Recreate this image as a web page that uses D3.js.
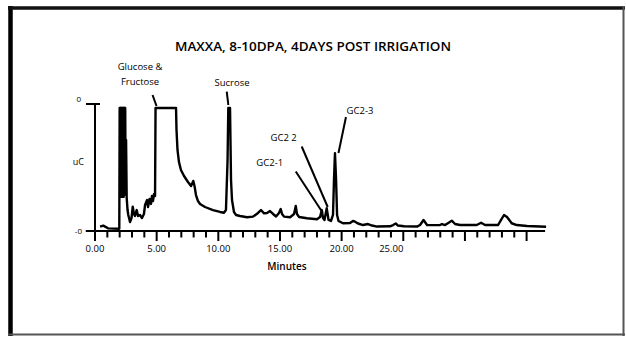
<!DOCTYPE html>
<html>
<head>
<meta charset="utf-8">
<script src="https://cdn.jsdelivr.net/npm/d3@7"></script>
<style>
  body { margin: 0; background: #fff; }
  text { font-family: "Open Sans", "DejaVu Sans", sans-serif; fill: #000; }
</style>
</head>
<body>
<script>
// chromatogram: [minutes, uC]
// tops at 96.9 are where the detector trace is clipped
var chromatogram = [
  [0.41, 3.4], [0.67, 4.2], [0.89, 3.1], [1.05, 2.1], [1.97, 1.8],
  [2.00, 96.9], [2.03, 27.0], [2.05, 96.9], [2.08, 27.0], [2.10, 96.9],
  [2.13, 27.0], [2.15, 96.9], [2.18, 27.0], [2.20, 96.9], [2.23, 27.0],
  [2.25, 96.9], [2.28, 27.0], [2.30, 96.9], [2.33, 27.0], [2.35, 96.9],
  [2.38, 28.3], [2.40, 96.9], [2.43, 30.0], [2.45, 96.9], [2.48, 32.0],
  [2.52, 71.7], [2.57, 26.0],
  [2.64, 16.5], [2.70, 12.6], [2.84, 7.1], [2.96, 10.2], [3.06, 19.1],
  [3.16, 13.4], [3.24, 11.8], [3.38, 16.5], [3.49, 11.8], [3.65, 12.6],
  [3.81, 10.2], [3.97, 13.4], [4.06, 20.5], [4.22, 24.4], [4.30, 18.9],
  [4.42, 25.2], [4.54, 21.3], [4.62, 27.6], [4.70, 23.6], [4.79, 29.1],
  [4.87, 27.6], [4.91, 96.9], [6.57, 96.9], [6.61, 79.5], [6.69, 63.8],
  [6.81, 54.3], [6.97, 48.0], [7.22, 43.3], [7.54, 38.6], [7.79, 35.4],
  [7.97, 39.4], [8.07, 35.4], [8.19, 28.3], [8.35, 23.6], [8.52, 21.3],
  [8.92, 18.9], [9.57, 16.5], [10.14, 15.0], [10.46, 14.4], [10.62, 16.5],
  [10.75, 55.9], [10.81, 96.9], [10.95, 96.9], [11.03, 40.2], [11.11, 24.4],
  [11.27, 15.0], [11.44, 12.6], [11.76, 11.8], [12.33, 10.8], [12.81, 11.3],
  [13.22, 14.2], [13.46, 16.5], [13.71, 13.9], [13.95, 14.2], [14.19, 15.7],
  [14.44, 13.4], [14.68, 11.4], [14.92, 14.2], [15.06, 17.3], [15.17, 13.4],
  [15.33, 11.3], [15.82, 10.8], [16.14, 13.4], [16.28, 19.7], [16.38, 13.4],
  [16.55, 11.0], [17.19, 10.0], [18.00, 9.2], [18.25, 11.0], [18.39, 16.5],
  [18.49, 10.2], [18.61, 8.7], [18.79, 17.9], [18.94, 8.7], [19.14, 7.9],
  [19.30, 12.6], [19.38, 40.2], [19.46, 61.2], [19.55, 40.2], [19.63, 12.6],
  [19.75, 7.9], [20.11, 6.1], [20.68, 6.3], [20.92, 7.9], [21.09, 7.3],
  [21.33, 5.9], [21.74, 4.7], [22.14, 5.5], [22.47, 4.3], [22.87, 3.5],
  [23.93, 3.7], [24.17, 4.7], [24.39, 5.9], [24.57, 4.3], [25.06, 3.7],
  [26.11, 3.5], [26.36, 4.7], [26.64, 8.7], [26.93, 4.7], [27.33, 4.6],
  [27.98, 4.7], [28.14, 5.5], [28.39, 4.7], [28.71, 6.7], [28.93, 8.1],
  [29.20, 5.5], [29.60, 4.7], [30.96, 4.7], [31.31, 6.5], [31.63, 4.7],
  [32.68, 4.7], [32.93, 8.7], [33.17, 12.6], [33.41, 11.0], [33.79, 6.1],
  [34.20, 4.7], [35.04, 3.9], [36.58, 3.4]
];

var tickMinutes = d3.range(0, 36);
var tickLabels = ["0.00", "5.00", "10.00", "15.00", "20.00", "25.00"];
var labelMinutes = [0, 5, 10, 15, 20, 25];

var peakNames = ["Glucose &\nFructose", "Sucrose", "GC2-1", "GC2 2", "GC2-3"];
var peakMinutes = [4.95, 10.87, 18.39, 18.79, 19.46];

var svg = d3.select("body").append("svg")
  .attr("width", 626)
  .attr("height", 337);

// frame: heavy on the left/top, thin grey on the right/bottom
svg.append("line").attr("x1", 10.5).attr("x2", 10.5).attr("y1", 6).attr("y2", 336)
  .attr("stroke", "#000").attr("stroke-width", 4.5);
svg.append("line").attr("x1", 8).attr("x2", 625).attr("y1", 8).attr("y2", 8)
  .attr("stroke", "#111").attr("stroke-width", 3.5);
svg.append("line").attr("x1", 623.5).attr("x2", 623.5).attr("y1", 6).attr("y2", 336)
  .attr("stroke", "#555").attr("stroke-width", 2);
svg.append("line").attr("x1", 8).attr("x2", 625).attr("y1", 334.5).attr("y2", 334.5)
  .attr("stroke", "#555").attr("stroke-width", 2);

svg.append("text")
  .attr("x", 313).attr("y", 51)
  .attr("text-anchor", "middle")
  .attr("font-size", 12).attr("font-weight", 600)
  .attr("textLength", 276).attr("lengthAdjust", "spacingAndGlyphs")
  .text("MAXXA, 8-10DPA, 4DAYS POST IRRIGATION");

var x = d3.scaleLinear().domain([0, 35]).range([95, 526.6]);
var y = d3.scaleLinear().domain([0, 100]).range([231, 104]);

// x axis
var g = svg.append("g").attr("stroke", "#000");
g.append("line")
  .attr("x1", x(-0.75)).attr("x2", x(36.5))
  .attr("y1", y(0)).attr("y2", y(0))
  .attr("stroke-width", 2);
g.selectAll(".tick").data(tickMinutes).enter().append("line")
  .attr("x1", d => x(d)).attr("x2", d => x(d))
  .attr("y1", y(0)).attr("y2", d => y(0) + (d % 5 === 0 ? 10 : 6.5))
  .attr("stroke-width", 2);

// y axis
g.append("line")
  .attr("x1", x(0)).attr("x2", x(0))
  .attr("y1", y(100)).attr("y2", y(0))
  .attr("stroke-width", 2);
g.append("line")
  .attr("x1", x(0) - 9).attr("x2", x(0) + 5)
  .attr("y1", y(100)).attr("y2", y(100))
  .attr("stroke-width", 2);

svg.append("text").attr("x", 81).attr("y", y(100) - 2.5)
  .attr("text-anchor", "end").attr("font-size", 8).text("0");
svg.append("text").attr("x", 82).attr("y", y(0) + 3)
  .attr("text-anchor", "end").attr("font-size", 8).text("-0");
svg.append("text").attr("x", 84).attr("y", 165)
  .attr("text-anchor", "end").attr("font-size", 9).text("uC");

svg.selectAll(".tl").data(labelMinutes).enter().append("text")
  .attr("x", d => x(d) + (d === 25 ? -12 : 0))
  .attr("y", 251.5)
  .attr("text-anchor", "middle")
  .attr("font-size", 9.5)
  .text((d, i) => tickLabels[i]);

svg.append("text").attr("x", 287).attr("y", 270)
  .attr("text-anchor", "middle").attr("font-size", 10).attr("font-weight", 600)
  .text("Minutes");

// trace
var line = d3.line().x(d => x(d[0])).y(d => y(d[1]));
svg.append("path")
  .datum(chromatogram)
  .attr("d", line)
  .attr("fill", "none")
  .attr("stroke", "#000")
  .attr("stroke-width", 2.4)
  .attr("stroke-linejoin", "round");

// peak labels and leader lines (pixel offsets relative to each peak)
var labelOffsets = [
  { lx: -16, ly: 85, x1: -3.5, y1: 95, x2: 0.5, y2: 106 },
  { lx: 3, ly: 86, x1: -2.3, y1: 91.7, x2: -0.7, y2: 105 },
  { lx: -52, ly: 166, x1: -26, y1: 171.5, x2: 0.8, y2: 212.5 },
  { lx: -43, ly: 141, x1: -25, y1: 146.5, x2: 1, y2: 207 },
  { lx: 25, ly: 114, x1: 11, y1: 117, x2: 3.5, y2: 153 }
];

peakNames.forEach(function (name, i) {
  var px = x(peakMinutes[i]);
  var o = labelOffsets[i];
  var lines = name.split("\n");
  var t = svg.append("text")
    .attr("text-anchor", "middle")
    .attr("font-size", 9.5);
  lines.forEach(function (s, k) {
    t.append("tspan").attr("x", px + o.lx).attr("y", o.ly - (lines.length - 1 - k) * 15).text(s);
  });
  svg.append("line")
    .attr("x1", px + o.x1).attr("y1", o.y1)
    .attr("x2", px + o.x2).attr("y2", o.y2)
    .attr("stroke", "#000").attr("stroke-width", 2);
});
</script>
</body>
</html>
